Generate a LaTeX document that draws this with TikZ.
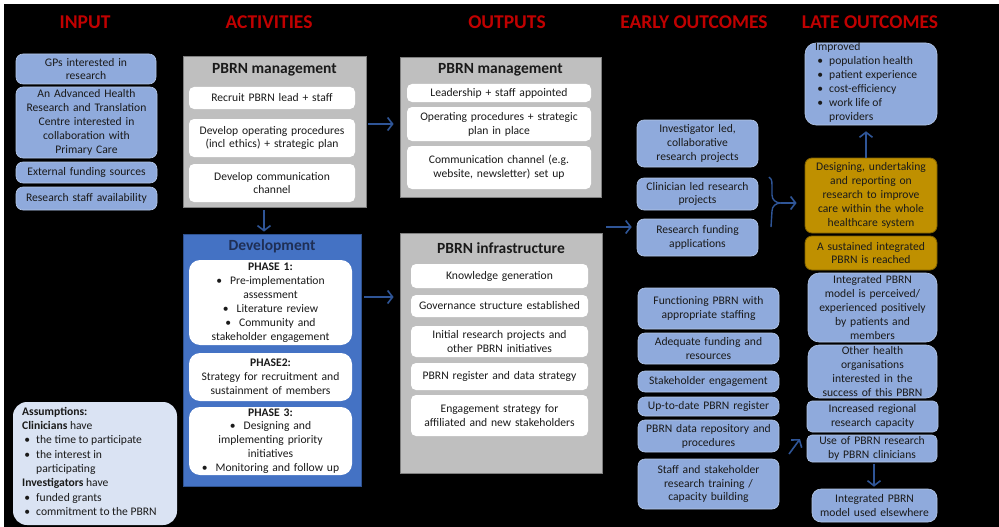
\documentclass[tikz,border=0pt]{standalone}
\usepackage{fontspec}
\setmainfont{Carlito}
\usetikzlibrary{arrows.meta}
\definecolor{hdrred}{HTML}{C00000}
\definecolor{lblue}{HTML}{8FAADC}
\definecolor{lbluedraw}{HTML}{B4C7E7}
\definecolor{greyfill}{HTML}{BFBFBF}
\definecolor{greydraw}{HTML}{7F7F7F}
\definecolor{devblue}{HTML}{4472C4}
\definecolor{devdraw}{HTML}{2F528F}
\definecolor{navy}{HTML}{1F2F55}
\definecolor{goldfill}{HTML}{BF9000}
\definecolor{golddraw}{HTML}{7F6000}
\definecolor{pale}{HTML}{DAE3F3}
\definecolor{arr}{HTML}{2F5597}
\definecolor{ink}{HTML}{1A1A1A}
\newcommand\mybox[7]{%
  \pgfmathsetmacro\bxw{#5-#3}\pgfmathsetmacro\bxh{#6-#4}%
  \pgfmathsetmacro\bxcx{(#3+#5)/2}\pgfmathsetmacro\bxcy{(#4+#6)/2}%
  \pgfmathsetmacro\bxtw{#5-#3-2}%
  \node[#1, minimum width=\bxw pt, minimum height=\bxh pt, text width=\bxtw pt] (#2) at (\bxcx,\bxcy) {#7};}
\newcommand\bul{\makebox[10pt][c]{\textbullet}\hspace{4pt}}
\newcommand\bulind{\hspace*{14pt}}
\newcommand\cb{\textbullet\hspace{8pt}}
\begin{document}
\begin{tikzpicture}[x=1pt,y=-1pt,
  every node/.style={font=\fontsize{11.6}{13.9}\selectfont, text=ink, align=center, inner sep=0pt},
  hdr/.style={font=\fontsize{19.5}{22}\selectfont\bfseries, text=hdrred},
  lb/.style={fill=lblue, draw=lbluedraw, line width=0.6pt, rounded corners=7pt},
  wb/.style={fill=white, draw=none, rounded corners=5pt},
  pb/.style={fill=white, draw=none, rounded corners=11pt},
  gb/.style={fill=greyfill, draw=greydraw, line width=0.8pt},
  db/.style={fill=devblue, draw=devdraw, line width=0.8pt},
  au/.style={fill=goldfill, draw=golddraw, line width=0.8pt, rounded corners=7pt},
  ttl/.style={font=\fontsize{15.5}{18}\selectfont\bfseries},
  arw/.style={draw=arr, line width=1.6pt, -{Straight Barb[length=5pt,width=13pt]}},
]
\fill[white] (0,0) rectangle (999,527);
\fill[black] (4,4) rectangle (999,527);
\useasboundingbox (0,0) rectangle (999,527);

% headers
\node[hdr] (hIn) at (85,22) {INPUT};
\node[hdr] (hAct) at (269,22) {ACTIVITIES};
\node[hdr] (hOut) at (507,22) {OUTPUTS};
\node[hdr] (hEarly) at (694,22) {EARLY OUTCOMES};
\node[hdr] (hLate) at (870,22) {LATE OUTCOMES};

% input
\mybox{lb}{in1}{16}{54}{156}{84}{GPs interested in\\research}
\mybox{lb}{in2}{16}{87}{157}{158}{An Advanced Health\\Research and Translation\\Centre interested in\\collaboration with\\Primary Care}
\mybox{lb}{in3}{16}{162}{157}{183}{External funding sources}
\mybox{lb}{in4}{16}{187}{157}{210}{Research staff availability}

% assumptions
\mybox{lb, fill=pale, draw=none, rounded corners=14pt}{asm}{13}{402}{177}{525}{}
\node[anchor=north west, align=left, font=\fontsize{11.6}{14.3}\selectfont] (asmt) at (22,407)
 {\textbf{Assumptions:}\\
  \textbf{Clinicians} have\\
  \bul the time to participate\\
  \bul the interest in\\
  \bulind participating\\
  \textbf{Investigators} have\\
  \bul funded grants\\
  \bul commitment to the PBRN};

% activities
\mybox{gb}{actg}{183}{56}{366}{207}{}
\node[ttl] (actt) at (274.5,70) {PBRN management};
\mybox{wb}{a1}{189}{87}{355}{109}{Recruit PBRN lead + staff}
\mybox{wb}{a2}{189}{119}{355}{157}{Develop operating procedures\\(incl ethics) + strategic plan}
\mybox{wb}{a3}{189}{164}{355}{202}{Develop communication\\channel}

\mybox{db}{dev}{183}{234}{361}{486}{}
\node[ttl, text=navy] (devt) at (272,246) {Development};
\mybox{pb}{p1}{189}{260}{352}{345}{\textbf{PHASE 1:}\\\cb Pre-implementation\\assessment\\\cb Literature review\\\cb Community and\\stakeholder engagement}
\mybox{pb}{p2}{189}{353}{352}{401}{\textbf{PHASE2:}\\Strategy for recruitment and\\sustainment of members}
\mybox{pb}{p3}{189}{407}{352}{475}{\textbf{PHASE 3:}\\\cb Designing and\\implementing priority\\initiatives\\\cb Monitoring and follow up}

% outputs
\mybox{gb}{og1}{400}{57}{601}{197}{}
\node[ttl] (og1t) at (500.5,70) {PBRN management};
\mybox{wb}{o1}{407}{84}{591}{102}{Leadership + staff appointed}
\mybox{wb}{o2}{407}{107}{591}{141}{Operating procedures + strategic\\plan in place}
\mybox{wb}{o3}{407}{146}{591}{189}{Communication channel (e.g.\\website, newsletter) set up}
\mybox{gb}{og2}{400}{233}{602}{473}{}
\node[ttl] (og2t) at (501,248) {PBRN infrastructure};
\mybox{wb}{o4}{411}{264}{588}{288}{Knowledge generation}
\mybox{wb}{o5}{411}{295}{588}{317}{Governance structure established}
\mybox{wb}{o6}{411}{326}{588}{357}{Initial research projects and\\other PBRN initiatives}
\mybox{wb}{o7}{411}{363}{588}{390}{PBRN register and data strategy}
\mybox{wb}{o8}{411}{395}{588}{436}{Engagement strategy for\\affiliated and new stakeholders}

% early outcomes
\mybox{lb}{e1}{637}{120}{758}{167}{Investigator led,\\collaborative\\research projects}
\mybox{lb}{e2}{637}{178}{758}{210}{Clinician led research\\projects}
\mybox{lb}{e3}{637}{219}{758}{256}{Research funding\\applications}
\mybox{lb}{e4}{638}{288}{779}{329}{Functioning PBRN with\\appropriate staffing}
\mybox{lb}{e5}{638}{333}{779}{364}{Adequate funding and\\resources}
\mybox{lb}{e6}{638}{371}{779}{392}{Stakeholder engagement}
\mybox{lb}{e7}{638}{397}{779}{416}{Up-to-date PBRN register}
\mybox{lb}{e8}{638}{420}{779}{452}{PBRN data repository and\\procedures}
\mybox{lb}{e9}{638}{459}{779}{509}{Staff and stakeholder\\research training /\\capacity building}

% late outcomes
\mybox{lb, rounded corners=11pt}{l1}{805}{43}{937}{125}{}
\node[anchor=north west, align=left, font=\fontsize{11.6}{14}\selectfont] (l1t) at (815,42)
 {Improved\\\bul population health\\\bul patient experience\\\bul cost-efficiency\\\bul work life of\\\bulind providers};
\mybox{au}{l2}{805}{158}{937}{233}{Designing, undertaking\\and reporting on\\research to improve\\care within the whole\\healthcare system}
\mybox{au}{l3}{805}{236}{937}{270}{A sustained integrated\\PBRN is reached}
\mybox{lb, rounded corners=11pt}{l4}{808}{273}{937}{342}{Integrated PBRN\\model is perceived/\\experienced positively\\by patients and\\members}
\mybox{lb, rounded corners=11pt}{l5}{808}{345}{937}{398}{Other health\\organisations\\interested in the\\success of this PBRN}
\mybox{lb, rounded corners=5pt}{l6}{807}{401}{938}{432}{Increased regional\\research capacity}
\mybox{lb, rounded corners=5pt}{l7}{807}{435}{937}{462}{Use of PBRN research\\by PBRN clinicians}
\mybox{lb, rounded corners=9pt}{l8}{812}{489}{937}{522}{Integrated PBRN\\model used elsewhere}

% connectors
\draw[arw, shorten <=2pt, shorten >=6pt] ([yshift=7.5pt]actg.east) -- ([yshift=3pt]og1.west);
\draw[arw, shorten <=3pt, shorten >=6pt] ([yshift=63pt]dev.east) -- ([yshift=56pt]og2.west);
\draw[arw, shorten <=3pt, shorten >=2pt] ([xshift=-10.5pt]actg.south) -- ([xshift=-8pt]dev.north);
\coordinate (eIn) at (606,227);
\draw[arw, shorten >=5pt] (eIn) -- (eIn -| e3.west);
\coordinate (brTop) at (769,177);
\coordinate (brTip) at (781,203);
\coordinate (brBot) at (771,227);
\draw[draw=arr, line width=1.4pt] (brTop) .. controls (771,178) and (772,180) .. (772,185) -- (772,195) .. controls (772,200) and (776,203) .. (brTip) .. controls (776,203) and (772,206) .. (772,211) -- (brBot);
\draw[arw, shorten >=8pt] (brTip) -- (brTip -| l2.west);
\draw[arw, shorten >=6pt] ([xshift=-5pt]l2.north) -- ([xshift=-5pt]l1.south);
\draw[arw, shorten <=2pt, shorten >=2pt] ([xshift=2pt]l7.south) -- ([xshift=-0.5pt]l8.north);
\coordinate (dgA) at (789,454);
\coordinate (dgB) at (800,439);
\draw[arw] (dgA) -- (dgB);
\end{tikzpicture}
\end{document}
